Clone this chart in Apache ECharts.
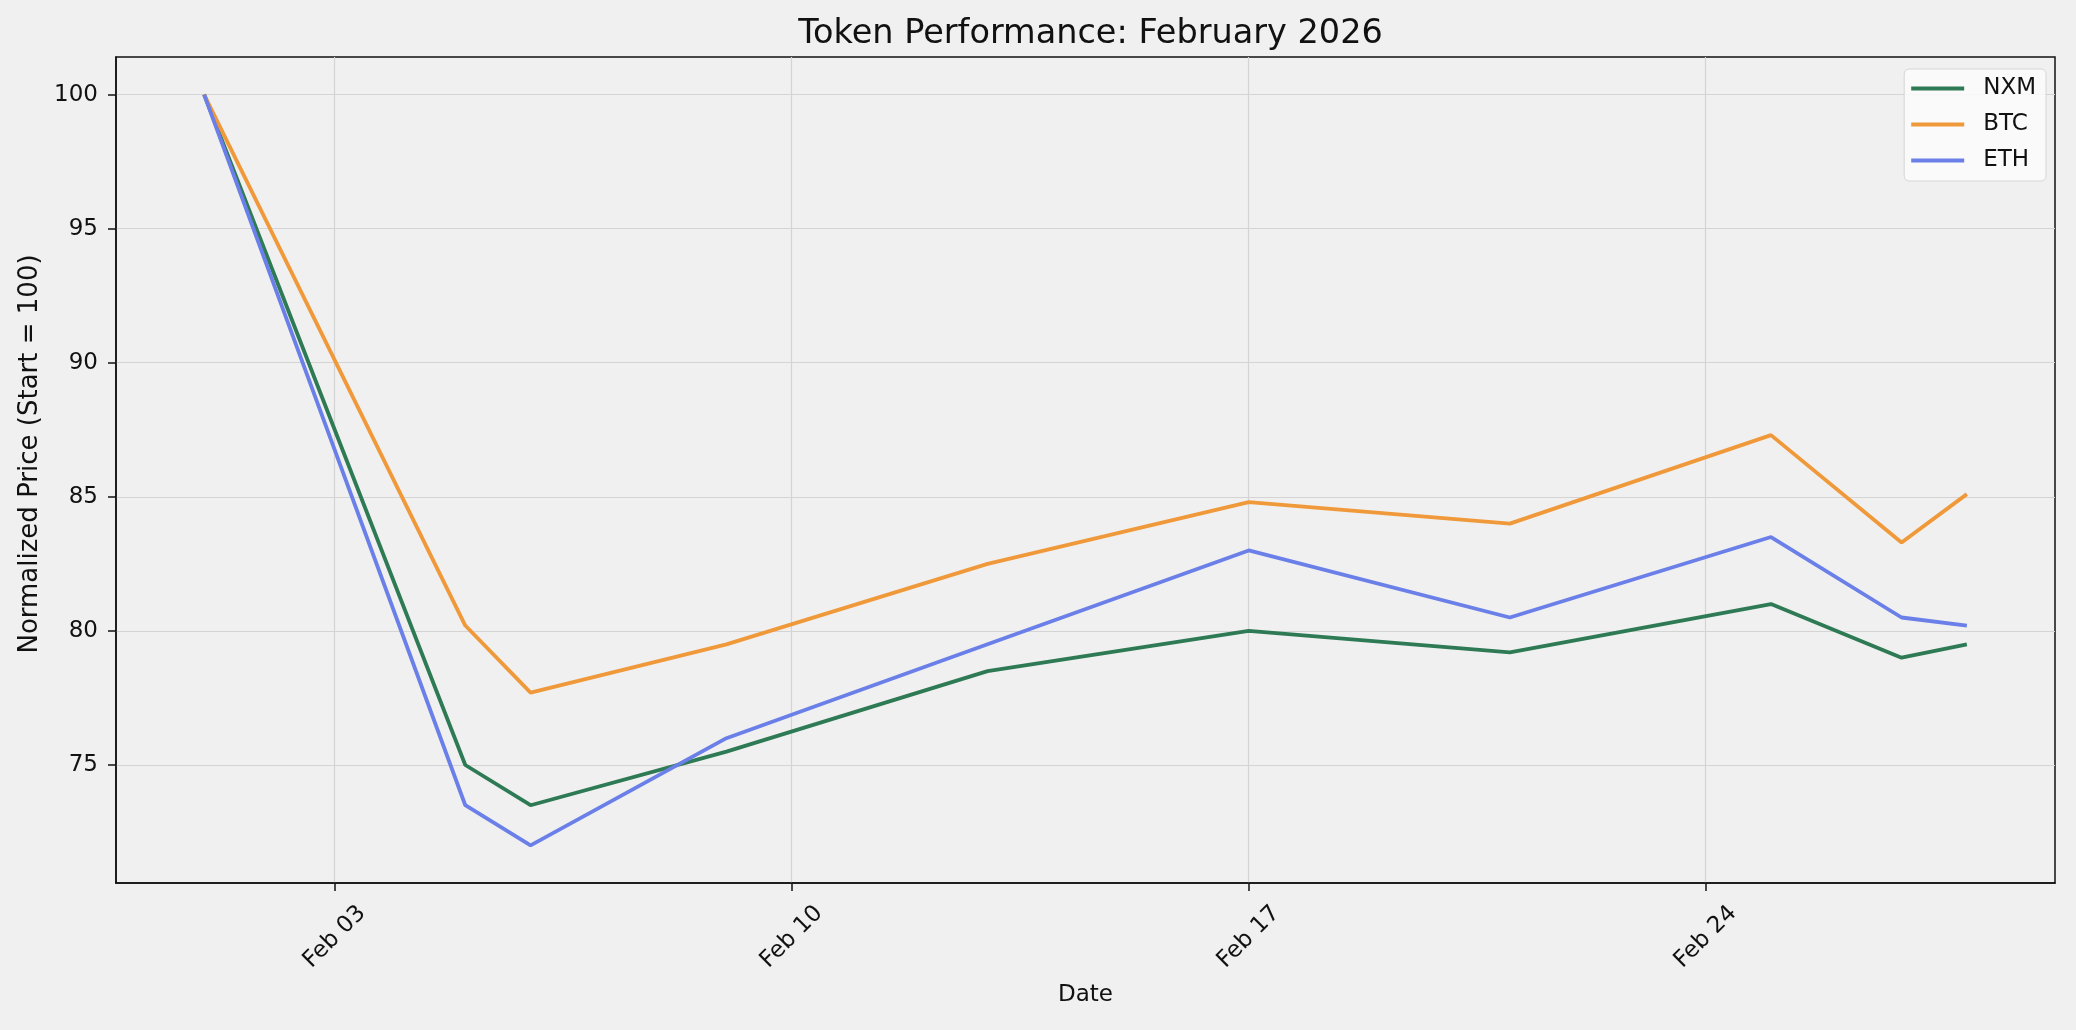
<!DOCTYPE html>
<html>
<head>
<meta charset="utf-8">
<script src="https://cdn.jsdelivr.net/npm/echarts@6/dist/echarts.min.js"></script>
<style>
html,body{margin:0;padding:0;background:#f0f0f0;}
#chart{width:2076px;height:1030px;}
</style>
</head>
<body>
<div id="chart"></div>
<script>
const dates = ['2026-02-01','2026-02-05','2026-02-06','2026-02-09','2026-02-13','2026-02-17','2026-02-21','2026-02-25','2026-02-27','2026-02-28'];
const nxm = [100, 75.0, 73.5, 75.5, 78.5, 80.0, 79.2, 81.0, 79.0, 79.5];
const btc = [100, 80.2, 77.7, 79.5, 82.5, 84.8, 84.0, 87.3, 83.3, 85.1];
const eth = [100, 73.5, 72.0, 76.0, 79.5, 83.0, 80.5, 83.5, 80.5, 80.2];
const xTickDates = ['2026-02-03','2026-02-10','2026-02-17','2026-02-24'];
const yTicks = [75, 80, 85, 90, 95, 100];
const seriesNames = ['NXM', 'BTC', 'ETH'];
const colors = ['#2E7A55', '#F0993A', '#6A7FE8'];

const ts = d => Date.parse(d + 'T00:00:00Z');
const xs = dates.map(ts);
const span = xs[xs.length - 1] - xs[0];
const xMin = xs[0] - span * 0.05;
const xMax = xs[xs.length - 1] + span * 0.05;
const allVals = nxm.concat(btc, eth);
const vMin = Math.min(...allVals), vMax = Math.max(...allVals);
const yMin = vMin - (vMax - vMin) * 0.05;
const yMax = vMax + (vMax - vMin) * 0.05;
const months = ['Jan','Feb','Mar','Apr','May','Jun','Jul','Aug','Sep','Oct','Nov','Dec'];
const fmtDate = v => { const d = new Date(v); const dd = d.getUTCDate(); return months[d.getUTCMonth()] + ' ' + (dd < 10 ? '0' + dd : dd); };

const font = 'DejaVu Sans';
const gridLeft = 116, gridRight = 21, W = 2076;
const chart = echarts.init(document.getElementById('chart'));
chart.setOption({
  backgroundColor: '#f0f0f0',
  animation: false,
  textStyle: { fontFamily: font },
  title: {
    text: 'Token Performance: February 2026',
    left: (gridLeft + (W - gridRight)) / 2, top: 12, textAlign: 'center',
    textStyle: { fontFamily: font, fontSize: 33.5, fontWeight: 'normal', color: '#111' }
  },
  legend: {
    data: seriesNames,
    orient: 'vertical',
    right: 30, top: 69,
    itemWidth: 53, itemHeight: 4, itemGap: 13,
    icon: 'rect',
    backgroundColor: 'rgba(252,252,252,0.85)',
    borderColor: '#d6d6d6', borderWidth: 1, borderRadius: 5,
    padding: [8, 10, 9, 7],
    textStyle: { fontFamily: font, fontSize: 23, color: '#111', padding: [0, 0, 0, 14] }
  },
  grid: {
    left: gridLeft, right: gridRight, top: 57, bottom: 147,
    show: true, backgroundColor: '#f0f0f0', borderColor: '#111', borderWidth: 1.5
  },
  xAxis: {
    type: 'value',
    min: xMin, max: xMax,
    name: 'Date', nameLocation: 'middle', nameGap: 101,
    nameTextStyle: { fontFamily: font, fontSize: 23, color: '#111' },
    axisLine: { show: true, lineStyle: { color: '#111', width: 1.5 } },
    axisTick: { show: true, length: 8, lineStyle: { color: '#111', width: 1.5 }, customValues: xTickDates.map(ts) },
    axisLabel: { rotate: 45, fontSize: 23, color: '#111', margin: 54, align: 'center', verticalAlign: 'middle', formatter: fmtDate, customValues: xTickDates.map(ts) },
    splitLine: { show: true, lineStyle: { color: '#d4d4d4', width: 1.2 } }
  },
  yAxis: {
    type: 'value',
    min: yMin, max: yMax,
    name: 'Normalized Price (Start = 100)', nameLocation: 'middle', nameGap: 72,
    nameTextStyle: { fontFamily: font, fontSize: 26, color: '#111', padding: [0, 0, 0, 32] },
    axisLine: { show: true, lineStyle: { color: '#111', width: 1.5 } },
    axisTick: { show: true, length: 8, lineStyle: { color: '#111', width: 1.5 }, customValues: yTicks },
    axisLabel: { fontSize: 23, color: '#111', margin: 18, customValues: yTicks },
    splitLine: { show: true, lineStyle: { color: '#d4d4d4', width: 1.2 } }
  },
  series: [nxm, btc, eth].map((vals, i) => ({
    name: seriesNames[i],
    type: 'line',
    data: vals.map((v, j) => [xs[j], v]),
    showSymbol: false,
    symbol: 'none',
    lineStyle: { color: colors[i], width: 3.8 },
    itemStyle: { color: colors[i] }
  }))
});
</script>
</body>
</html>
